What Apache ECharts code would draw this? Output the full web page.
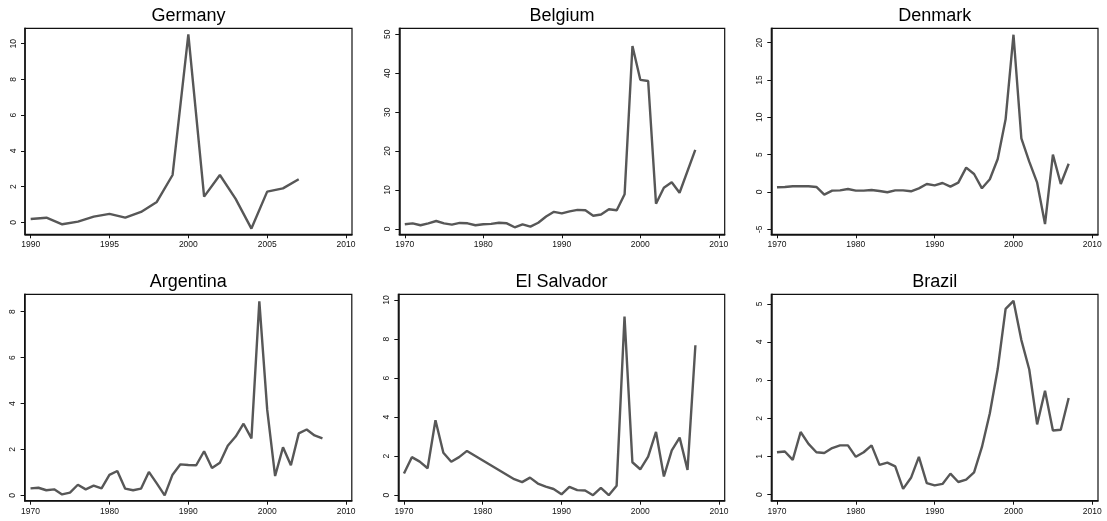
<!DOCTYPE html>
<html>
<head>
<meta charset="utf-8">
<script src="https://cdn.jsdelivr.net/npm/echarts@6/dist/echarts.min.js"></script>
<style>
  html, body { margin: 0; padding: 0; background: #ffffff; }
  #chart { width: 1107px; height: 521px; }
</style>
</head>
<body>
<div id="chart"></div>
<script>
// Annual series per country
const germanyYears = [1990,1991,1992,1993,1994,1995,1996,1997,1998,1999,2000,2001,2002,2003,2004,2005,2006,2007];
const germanyValues = [0.19,0.26,-0.11,0.04,0.32,0.47,0.26,0.58,1.14,2.65,10.52,1.44,2.65,1.31,-0.35,1.72,1.90,2.41];

const belgiumYears = [1970,1971,1972,1973,1974,1975,1976,1977,1978,1979,1980,1981,1982,1983,1984,1985,1986,1987,1988,1989,1990,1991,1992,1993,1994,1995,1996,1997,1998,1999,2000,2001,2002,2003,2004,2005,2007];
const belgiumValues = [1.2,1.45,0.95,1.45,2.05,1.45,1.1,1.55,1.45,0.95,1.2,1.3,1.6,1.45,0.43,1.2,0.6,1.6,3.2,4.4,4.0,4.5,4.9,4.8,3.4,3.7,5.05,4.8,8.9,47.0,38.3,38.0,6.5,10.6,12.0,9.3,20.3];

const denmarkYears = [1970,1971,1972,1973,1974,1975,1976,1977,1978,1979,1980,1981,1982,1983,1984,1985,1986,1987,1988,1989,1990,1991,1992,1993,1994,1995,1996,1997,1998,1999,2000,2001,2002,2003,2004,2005,2006,2007];
const denmarkValues = [0.63,0.67,0.76,0.76,0.76,0.67,-0.36,0.18,0.22,0.4,0.18,0.18,0.27,0.13,-0.04,0.22,0.22,0.09,0.49,1.07,0.89,1.2,0.71,1.25,3.26,2.41,0.49,1.7,4.42,9.73,21.07,7.19,4.06,1.25,-4.29,5.0,1.07,3.79];

const argentinaYears = [1970,1971,1972,1973,1974,1975,1976,1977,1978,1979,1980,1981,1982,1983,1984,1985,1986,1987,1988,1989,1990,1991,1992,1993,1994,1995,1996,1997,1998,1999,2000,2001,2002,2003,2004,2005,2006,2007];
const argentinaValues = [0.3,0.33,0.22,0.26,0.04,0.12,0.46,0.26,0.42,0.3,0.89,1.06,0.29,0.22,0.29,1.02,0.52,0.0,0.9,1.35,1.32,1.31,1.92,1.19,1.42,2.16,2.56,3.12,2.48,8.45,3.72,0.84,2.09,1.31,2.7,2.87,2.61,2.48];

const elSalvadorYears = [1970,1971,1972,1973,1974,1975,1976,1977,1978,1984,1985,1986,1987,1988,1989,1990,1991,1992,1993,1994,1995,1996,1997,1998,1999,2000,2001,2002,2003,2004,2005,2006,2007];
const elSalvadorValues = [1.11,1.95,1.72,1.38,3.84,2.18,1.71,1.95,2.27,0.82,0.67,0.9,0.6,0.44,0.32,0.05,0.43,0.26,0.24,0.0,0.38,0.0,0.49,9.15,1.69,1.33,1.98,3.24,0.96,2.3,2.95,1.3,7.68];

const brazilYears = [1970,1971,1972,1973,1974,1975,1976,1977,1978,1979,1980,1981,1982,1983,1984,1985,1986,1987,1988,1989,1990,1991,1992,1993,1994,1995,1996,1997,1998,1999,2000,2001,2002,2003,2004,2005,2006,2007];
const brazilValues = [1.11,1.13,0.91,1.64,1.33,1.11,1.09,1.22,1.29,1.29,0.99,1.11,1.29,0.78,0.84,0.74,0.15,0.44,0.99,0.30,0.24,0.28,0.55,0.33,0.39,0.58,1.25,2.13,3.29,4.87,5.08,4.05,3.28,1.84,2.72,1.68,1.70,2.53];

// Tick labels
const xTicksGermany = [1990,1995,2000,2005,2010];
const xTicksDecades = [1970,1980,1990,2000,2010];
const yTicksGermany = [0,2,4,6,8,10];
const yTicksBelgium = [0,10,20,30,40,50];
const yTicksDenmark = [-5,0,5,10,15,20];
const yTicksArgentina = [0,2,4,6,8];
const yTicksElSalvador = [0,2,4,6,8,10];
const yTicksBrazil = [0,1,2,3,4,5];

// Panel layout: frame box in pixels and padded axis extents
const panels = [
  { name: 'Germany',     years: germanyYears,    values: germanyValues,    xt: xTicksGermany, yt: yTicksGermany,
    box: [25, 28.3, 327, 206],   x: [1989.64, 2010.38], y: [-0.67, 10.86] },
  { name: 'Belgium',     years: belgiumYears,    values: belgiumValues,    xt: xTicksDecades, yt: yTicksBelgium,
    box: [399.3, 28.3, 325.4, 206], x: [1969.3, 2010.75], y: [-1.37, 51.54] },
  { name: 'Denmark',     years: denmarkYears,    values: denmarkValues,    xt: xTicksDecades, yt: yTicksDenmark,
    box: [771.3, 28.3, 326.7, 206], x: [1969.28, 2010.72], y: [-5.67, 21.93] },
  { name: 'Argentina',   years: argentinaYears,  values: argentinaValues,  xt: xTicksDecades, yt: yTicksArgentina,
    box: [24.6, 294.3, 327.2, 206.4], x: [1969.25, 2010.72], y: [-0.235, 8.76] },
  { name: 'El Salvador', years: elSalvadorYears, values: elSalvadorValues, xt: xTicksDecades, yt: yTicksElSalvador,
    box: [398.3, 294.3, 326.4, 206.4], x: [1969.28, 2010.72], y: [-0.28, 10.29] },
  { name: 'Brazil',      years: brazilYears,     values: brazilValues,     xt: xTicksDecades, yt: yTicksBrazil,
    box: [771.3, 294.3, 326.7, 206.4], x: [1969.28, 2010.72], y: [-0.16, 5.25] }
];

const FONT = '"Liberation Sans", Arial, sans-serif';
const LINE_COLOR = '#575757';

const grid = [], xAxis = [], yAxis = [], series = [], title = [];

panels.forEach((p, i) => {
  const [left, top, width, height] = p.box;
  grid.push({
    left: left, top: top, width: width, height: height,
    show: true, borderColor: '#111', borderWidth: 1.2, backgroundColor: '#fff'
  });
  title.push({
    text: p.name,
    left: left + width / 2,
    top: top - 21.5,
    padding: 0,
    textAlign: 'center',
    textStyle: { fontFamily: FONT, fontSize: 18, fontWeight: 'normal', color: '#000' }
  });
  xAxis.push({
    type: 'value', gridIndex: i, min: p.x[0], max: p.x[1],
    splitLine: { show: false },
    axisLine: { show: true, onZero: false, lineStyle: { color: '#111', width: 1.5 } },
    axisTick: { show: true, length: 4, customValues: p.xt, lineStyle: { color: '#111', width: 1 } },
    axisLabel: { customValues: p.xt, margin: 6, fontFamily: FONT, fontSize: 8.5, color: '#111', formatter: v => String(v) }
  });
  yAxis.push({
    type: 'value', gridIndex: i, min: p.y[0], max: p.y[1],
    splitLine: { show: false },
    axisLine: { show: true, onZero: false, lineStyle: { color: '#111', width: 1.5 } },
    axisTick: { show: true, length: 4, customValues: p.yt, lineStyle: { color: '#111', width: 1 } },
    axisLabel: { customValues: p.yt, rotate: 90, margin: 7, fontFamily: FONT, fontSize: 8.5, color: '#111', formatter: v => String(v) }
  });
  series.push({
    type: 'line', xAxisIndex: i, yAxisIndex: i,
    data: p.years.map((yr, k) => [yr, p.values[k]]),
    showSymbol: false, symbol: 'none',
    lineStyle: { color: LINE_COLOR, width: 2.4 },
    animation: false
  });
});

const chart = echarts.init(document.getElementById('chart'), null, { renderer: 'canvas' });
chart.setOption({
  backgroundColor: '#fff',
  animation: false,
  title: title,
  grid: grid,
  xAxis: xAxis,
  yAxis: yAxis,
  series: series
});
</script>
</body>
</html>
